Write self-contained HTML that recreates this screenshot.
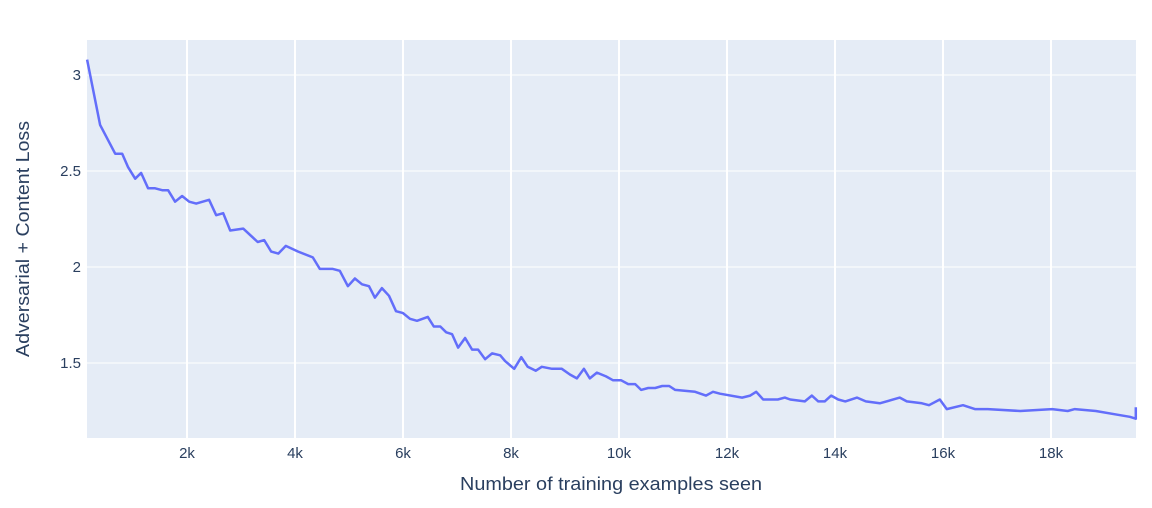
<!DOCTYPE html>
<html><head><meta charset="utf-8"><style>
body{margin:0;background:#fff;}
svg{display:block;font-family:"Liberation Sans",Arial,sans-serif;}
</style></head><body>
<svg id="chart" width="1152" height="508" xmlns="http://www.w3.org/2000/svg">
<rect x="87" y="40" width="1049" height="398" fill="#e5ecf6"/>
<g id="grid"></g>
<g id="ticks"></g>
<path id="line" fill="none" stroke="#636efa" stroke-width="2.5" stroke-linejoin="round"/>
<text x="611" y="490" text-anchor="middle" font-size="18" textLength="302" lengthAdjust="spacingAndGlyphs" fill="#2a3f5f">Number of training examples seen</text>
<text transform="translate(29,239) rotate(-90)" text-anchor="middle" font-size="18" textLength="236" lengthAdjust="spacingAndGlyphs" fill="#2a3f5f">Adversarial + Content Loss</text>
</svg>
<script>
const xs=[0.15,0.39,0.67,0.80,0.91,1.04,1.15,1.28,1.41,1.54,1.65,1.78,1.91,2.04,2.17,2.41,2.54,2.67,2.80,3.04,3.31,3.43,3.56,3.69,3.83,4.06,4.33,4.46,4.70,4.83,4.98,5.11,5.24,5.37,5.48,5.61,5.74,5.87,6.00,6.13,6.26,6.46,6.57,6.69,6.80,6.91,7.02,7.15,7.28,7.39,7.52,7.65,7.80,7.89,8.06,8.19,8.31,8.46,8.57,8.76,8.94,9.09,9.22,9.35,9.46,9.59,9.76,9.89,10.04,10.17,10.30,10.41,10.54,10.67,10.80,10.93,11.04,11.41,11.61,11.74,11.87,12.28,12.43,12.54,12.67,12.94,13.07,13.17,13.44,13.57,13.69,13.81,13.93,14.06,14.19,14.41,14.57,14.83,15.20,15.33,15.61,15.74,15.94,16.07,16.37,16.59,16.83,17.43,18.02,18.31,18.44,18.83,19.24,19.46,19.57,19.57];
const losses=[3.08,2.74,2.59,2.59,2.52,2.46,2.49,2.41,2.41,2.40,2.40,2.34,2.37,2.34,2.33,2.35,2.27,2.28,2.19,2.20,2.13,2.14,2.08,2.07,2.11,2.08,2.05,1.99,1.99,1.98,1.90,1.94,1.91,1.90,1.84,1.89,1.85,1.77,1.76,1.73,1.72,1.74,1.69,1.69,1.66,1.65,1.58,1.63,1.57,1.57,1.52,1.55,1.54,1.51,1.47,1.53,1.48,1.46,1.48,1.47,1.47,1.44,1.42,1.47,1.42,1.45,1.43,1.41,1.41,1.39,1.39,1.36,1.37,1.37,1.38,1.38,1.36,1.35,1.33,1.35,1.34,1.32,1.33,1.35,1.31,1.31,1.32,1.31,1.30,1.33,1.30,1.30,1.33,1.31,1.30,1.32,1.30,1.29,1.32,1.30,1.29,1.28,1.31,1.26,1.28,1.26,1.26,1.25,1.26,1.25,1.26,1.25,1.23,1.22,1.21,1.27];
const xTicks=[2,4,6,8,10,12,14,16,18];
const xTickLabels=["2k","4k","6k","8k","10k","12k","14k","16k","18k"];
const yTicks=[1.5,2,2.5,3];
const yTickLabels=["1.5","2","2.5","3"];
const X=v=>79+v*54;
const Y=v=>459-(v-1)*192;
const NS="http://www.w3.org/2000/svg";
const grid=document.getElementById('grid'),ticks=document.getElementById('ticks');
xTicks.forEach((t,i)=>{
 const l=document.createElementNS(NS,'line');
 
 
 l.setAttribute('x1',X(t));l.setAttribute('x2',X(t));l.setAttribute('y1',40);l.setAttribute('y2',438);
 l.setAttribute('stroke','#fff');l.setAttribute('stroke-width','2');grid.appendChild(l);
 const tx=document.createElementNS(NS,'text');
 
 
 tx.setAttribute('x',X(t));tx.setAttribute('y',458);tx.setAttribute('text-anchor','middle');
 tx.setAttribute('font-size','15');tx.setAttribute('fill','#2a3f5f');tx.textContent=xTickLabels[i];ticks.appendChild(tx);
});
yTicks.forEach((t,i)=>{
 const l=document.createElementNS(NS,'line');
 
 
 l.setAttribute('x1',87);l.setAttribute('x2',1136);l.setAttribute('y1',Y(t));l.setAttribute('y2',Y(t));
 l.setAttribute('stroke','#fff');l.setAttribute('stroke-width','1');grid.appendChild(l);
 const tx=document.createElementNS(NS,'text');
 
 
 tx.setAttribute('x',81);tx.setAttribute('y',Y(t)+5);tx.setAttribute('text-anchor','end');
 tx.setAttribute('font-size','15');tx.setAttribute('fill','#2a3f5f');tx.textContent=yTickLabels[i];ticks.appendChild(tx);
});
document.getElementById('line').setAttribute('d',xs.map((x,i)=>(i?'L':'M')+X(x).toFixed(1)+','+Y(losses[i]).toFixed(1)).join(''));
</script>
</body></html>
